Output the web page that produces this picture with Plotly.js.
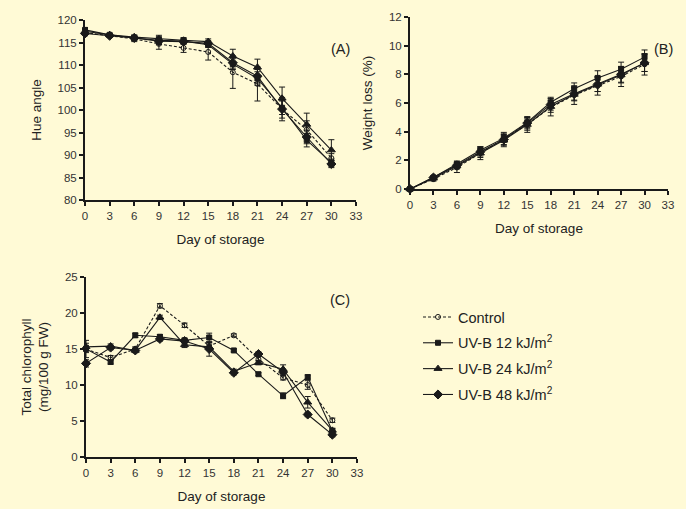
<!DOCTYPE html>
<html>
<head>
<meta charset="utf-8">
<script src="https://cdn.plot.ly/plotly-3.0.1.min.js"></script>
<style>
html,body{margin:0;padding:0;background:#FFFAD6;}
#chart{width:686px;height:509px;}
</style>
</head>
<body>
<div id="chart"></div>
<script>
// ---- data ----
const days = [0, 3, 6, 9, 12, 15, 18, 21, 24, 27, 30];
const xTicks = [0, 3, 6, 9, 12, 15, 18, 21, 24, 27, 30, 33];
const seriesNames = ['Control', 'UV-B 12 kJ/m<sup>2</sup>', 'UV-B 24 kJ/m<sup>2</sup>', 'UV-B 48 kJ/m<sup>2</sup>'];

// (A) Hue angle
const hueControl = [117.2, 116.5, 115.8, 114.7, 113.8, 112.9, 108.4, 105.8, 100.2, 95.6, 89.3];
const hueUV12    = [117.8, 116.7, 116.0, 115.5, 115.3, 114.5, 110.2, 107.0, 100.5, 93.3, 88.3];
const hueUV24    = [117.5, 116.7, 116.2, 115.8, 115.5, 115.2, 112.0, 109.5, 102.6, 96.8, 91.1];
const hueUV48    = [117.0, 116.5, 116.0, 115.3, 115.2, 114.8, 110.5, 107.5, 100.2, 94.0, 88.0];
const hueErrControl = [0.6, 0.4, 0.6, 1.2, 1.0, 1.8, 3.6, 3.8, 2.6, 2.0, 1.0];
const hueErrUV12    = [0.5, 0.3, 0.5, 0.8, 0.6, 0.6, 1.2, 1.5, 1.5, 1.5, 0.8];
const hueErrUV24    = [0.5, 0.3, 0.5, 0.8, 0.6, 0.6, 1.5, 1.8, 2.5, 2.5, 2.3];
const hueErrUV48    = [0.5, 0.3, 0.5, 0.8, 0.6, 0.6, 1.2, 1.5, 2.0, 1.5, 0.8];

// (B) Weight loss (%)
const wlControl = [0, 0.70, 1.50, 2.50, 3.45, 4.50, 5.70, 6.55, 7.20, 7.85, 8.70];
const wlUV12    = [0, 0.80, 1.75, 2.70, 3.55, 4.65, 6.05, 7.00, 7.75, 8.35, 9.20];
const wlUV24    = [0, 0.75, 1.60, 2.50, 3.40, 4.50, 5.75, 6.60, 7.30, 7.95, 8.80];
const wlUV48    = [0, 0.80, 1.65, 2.60, 3.45, 4.60, 5.90, 6.65, 7.30, 8.00, 8.80];
const wlErrControl = [0, 0.15, 0.35, 0.45, 0.50, 0.55, 0.60, 0.65, 0.65, 0.70, 0.75];
const wlErrUV12    = [0, 0.10, 0.20, 0.25, 0.30, 0.35, 0.35, 0.40, 0.50, 0.50, 0.50];
const wlErrUV24    = [0, 0.10, 0.20, 0.30, 0.35, 0.40, 0.40, 0.45, 0.50, 0.55, 0.60];
const wlErrUV48    = [0, 0.10, 0.20, 0.30, 0.35, 0.40, 0.40, 0.45, 0.50, 0.55, 0.60];

// (C) Total chlorophyll (mg/100 g FW)
const chlControl = [15.0, 13.8, 15.0, 21.0, 18.3, 15.4, 16.9, 13.6, 11.0, 10.0, 5.1];
const chlUV12    = [15.0, 13.2, 16.9, 16.7, 16.2, 16.6, 14.8, 11.5, 8.5, 11.1, 3.6];
const chlUV24    = [15.3, 15.4, 14.8, 19.4, 15.6, 15.3, 11.9, 13.1, 12.2, 7.6, 3.7];
const chlUV48    = [13.0, 15.2, 14.8, 16.4, 16.1, 15.0, 11.7, 14.3, 11.8, 5.9, 3.1];
const chlErrControl = [1.2, 0.3, 0.3, 0.3, 0.3, 0.5, 0.2, 0.4, 0.3, 0.6, 0.3];
const chlErrUV12    = [0.5, 0.3, 0.3, 0.3, 0.3, 0.6, 0.2, 0.2, 0.4, 0.3, 0.3];
const chlErrUV24    = [0.5, 0.3, 0.3, 0.3, 0.4, 0.4, 0.3, 0.3, 0.6, 0.8, 0.3];
const chlErrUV48    = [0.5, 0.3, 0.3, 0.3, 0.3, 1.0, 0.3, 0.3, 0.4, 0.3, 0.3];

// ---- styles ----
const INK = '#1a1a1a';
const styles = [
  {symbol: 'circle-open', size: 5, dash: '3px,2px'},
  {symbol: 'square', size: 5, dash: 'solid'},
  {symbol: 'triangle-up', size: 7, dash: 'solid'},
  {symbol: 'diamond', size: 7, dash: 'solid'}
];

function mk(y, err, i, xa, ya, showLegend) {
  const s = styles[i];
  return {
    x: days, y: y, xaxis: xa, yaxis: ya,
    type: 'scatter', mode: 'lines+markers',
    name: seriesNames[i], showlegend: showLegend, legendgroup: 'g' + i,
    line: {color: INK, width: 1.1, dash: s.dash},
    marker: {symbol: s.symbol, size: s.size, color: INK, line: {color: INK, width: 1}},
    error_y: {type: 'data', array: err, visible: true, color: INK, thickness: 1, width: 3},
    cliponaxis: false
  };
}

const traces = [
  mk(hueControl, hueErrControl, 0, 'x', 'y', false),
  mk(hueUV12, hueErrUV12, 1, 'x', 'y', false),
  mk(hueUV24, hueErrUV24, 2, 'x', 'y', false),
  mk(hueUV48, hueErrUV48, 3, 'x', 'y', false),
  mk(wlControl, wlErrControl, 0, 'x2', 'y2', false),
  mk(wlUV12, wlErrUV12, 1, 'x2', 'y2', false),
  mk(wlUV24, wlErrUV24, 2, 'x2', 'y2', false),
  mk(wlUV48, wlErrUV48, 3, 'x2', 'y2', false),
  mk(chlControl, chlErrControl, 0, 'x3', 'y3', true),
  mk(chlUV12, chlErrUV12, 1, 'x3', 'y3', true),
  mk(chlUV24, chlErrUV24, 2, 'x3', 'y3', true),
  mk(chlUV48, chlErrUV48, 3, 'x3', 'y3', true)
];

const W = 686, H = 509;
const fx = p => p / W;
const fy = p => (H - p) / H;

const FONT = 'Liberation Sans, Arial, sans-serif';
function xax(domain, anchor) {
  return {
    domain: domain, anchor: anchor, range: [0, 33], tickvals: xTicks,
    showline: true, linecolor: INK, linewidth: 2, ticks: 'outside', ticklen: 4, tickwidth: 2, tickcolor: INK,
    showgrid: false, zeroline: false, tickfont: {family: FONT, size: 11.5, color: '#333'},
    title: {text: 'Day of storage', font: {family: FONT, size: 13.5, color: '#222'}, standoff: 14}
  };
}
function yax(domain, anchor, range, dtick, title) {
  return {
    domain: domain, anchor: anchor, range: range, dtick: dtick, tick0: 0,
    showline: true, linecolor: INK, linewidth: 2, ticks: 'outside', ticklen: 4, tickwidth: 2, tickcolor: INK,
    showgrid: false, zeroline: false, tickfont: {family: FONT, size: 11.5, color: '#333'},
    title: {text: title, font: {family: FONT, size: 13.5, color: '#222'}, standoff: 13}
  };
}

const layout = {
  width: W, height: H,
  paper_bgcolor: '#FFFAD6', plot_bgcolor: '#FFFAD6',
  margin: {l: 0, r: 0, t: 0, b: 0},
  font: {family: FONT, color: '#222'},
  xaxis: xax([fx(85), fx(356)], 'y'),
  yaxis: yax([fy(200), fy(20)], 'x', [80, 120], 5, 'Hue angle'),
  xaxis2: xax([fx(410), fx(668)], 'y2'),
  yaxis2: yax([fy(189), fy(17)], 'x2', [0, 12], 2, 'Weight loss (%)'),
  xaxis3: xax([fx(86), fx(357)], 'y3'),
  yaxis3: yax([fy(457), fy(277)], 'x3', [0, 25], 5, 'Total chlorophyll<br>(mg/100 g FW)'),
  showlegend: true,
  legend: {
    x: fx(418), y: fy(301), xanchor: 'left', yanchor: 'top',
    bgcolor: 'rgba(0,0,0,0)', font: {family: FONT, size: 14.5, color: '#222'},
    tracegroupgap: 4, itemwidth: 30
  },
  annotations: [
    {text: '(A)', x: fx(340), y: fy(39), xref: 'paper', yref: 'paper', showarrow: false, font: {family: FONT, size: 14.5, color: '#222'}},
    {text: '(B)', x: fx(675), y: fy(39), xref: 'paper', yref: 'paper', showarrow: false, font: {family: FONT, size: 14.5, color: '#222'}},
    {text: '(C)', x: fx(340), y: fy(300), xref: 'paper', yref: 'paper', showarrow: false, font: {family: FONT, size: 14.5, color: '#222'}}
  ]
};

Plotly.newPlot('chart', traces, layout, {displayModeBar: false, staticPlot: true});
</script>
</body>
</html>
